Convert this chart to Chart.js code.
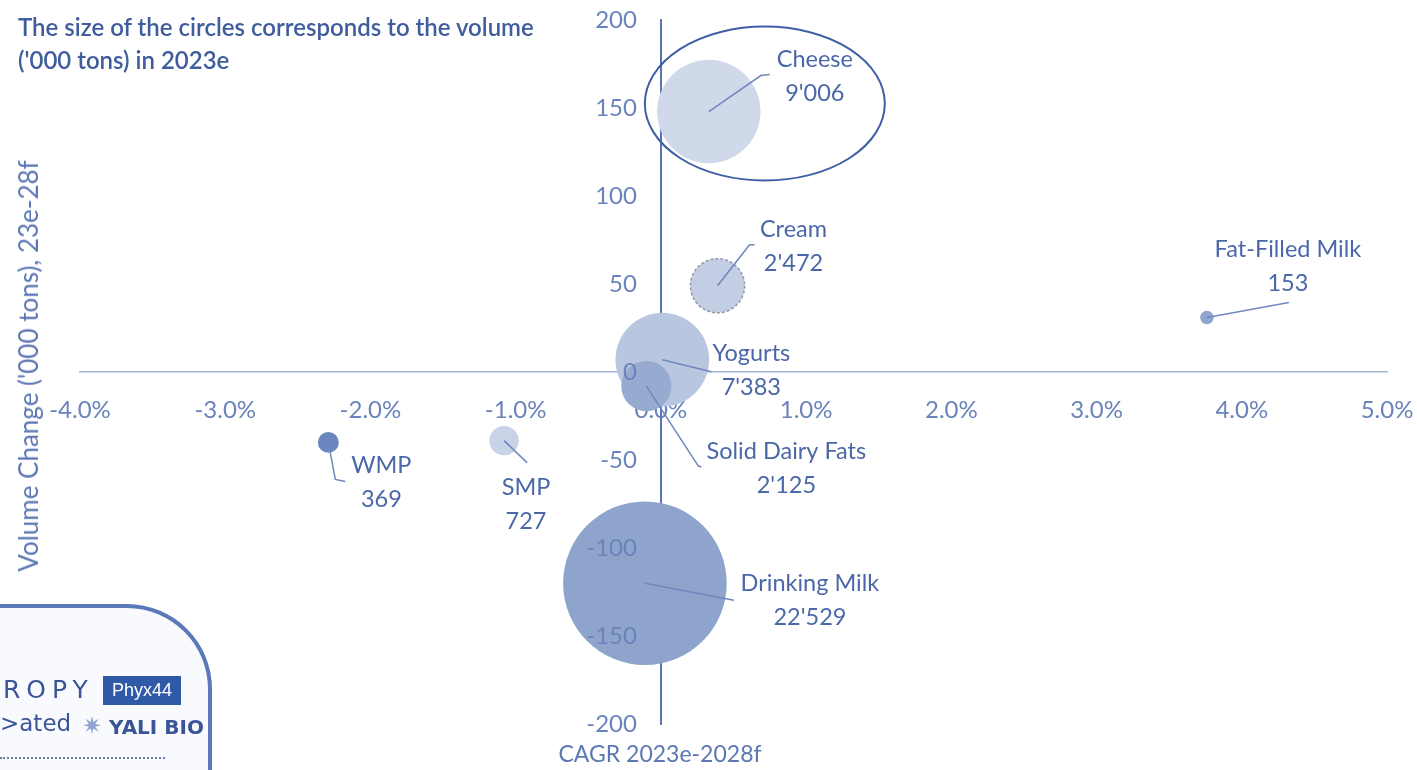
<!DOCTYPE html>
<html>
<head>
<meta charset="utf-8">
<script src="https://cdn.jsdelivr.net/npm/chart.js@4"></script>
<style>
  html, body { margin: 0; padding: 0; background: #fff; }
  body { width: 1417px; height: 770px; position: relative; overflow: hidden; font-family: Lato, "Open Sans", sans-serif; }
  #wrap { position: absolute; left: 0; top: 0; width: 1417px; height: 770px; }
  .note { position: absolute; left: 18px; top: 10px; color: #3f5c9c; font-size: 24px; line-height: 33px; font-weight: 600; }
  .xtitle { position: absolute; left: 540px; width: 240px; top: 739px; text-align: center; color: #5c77b3; font-size: 23px; }
  .ytitle { position: absolute; left: 28px; top: 366px; transform: translate(-50%, -50%) rotate(-90deg); white-space: nowrap; color: #5c77b3; font-size: 26px; }
  .logo { position: absolute; left: -20px; top: 604px; width: 228px; height: 200px; border-top: 4px solid #5b78b8; border-right: 4px solid #5b78b8; border-top-right-radius: 85px; background: #f9fafd; }
  .ropy { position: absolute; left: 3px; top: 675px; color: #3a5596; font-size: 25px; letter-spacing: 6px; font-family: "DejaVu Sans", sans-serif; }
  .phyx { position: absolute; left: 103px; top: 676px; width: 78px; height: 29px; background: #2f5aa8; color: #fff; font-size: 18px; line-height: 29px; text-align: center; font-family: "Liberation Sans", sans-serif; }
  .ated { position: absolute; left: 0px; top: 710px; color: #3a5596; font-size: 23px; font-family: "DejaVu Sans", sans-serif; }
  .yali { position: absolute; left: 82px; top: 712px; color: #3a5596; font-size: 20px; font-weight: bold; font-family: "DejaVu Sans", sans-serif; }
  .yali span { color: #8ea4d4; font-size: 24px; }
  .dots { position: absolute; left: 0; top: 757px; width: 165px; border-top: 2px dotted #6a7fb0; }
</style>
</head>
<body>
<div id="wrap"><canvas id="myChart" width="1417" height="770"></canvas></div>
<div class="note">The size of the circles corresponds to the volume<br>('000 tons) in 2023e</div>
<div class="ytitle">Volume Change ('000 tons), 23e-28f</div>
<div class="xtitle">CAGR 2023e-2028f</div>
<div class="logo"></div>
<div class="ropy">ROPY</div>
<div class="phyx">Phyx44</div>
<div class="ated">&gt;ated</div>
<div class="yali"><span>✷</span> YALI BIO</div>
<div class="dots"></div>

<script>
// data
const products = ["Cheese", "Cream", "Yogurts", "Solid Dairy Fats", "Drinking Milk", "Fat-Filled Milk", "WMP", "SMP"];
const cagr = [0.33, 0.39, 0.01, -0.10, -0.11, 3.76, -2.29, -1.08];          // % CAGR 2023e-2028f
const volumeChange = [148, 49, 7, -8, -120, 31, -40, -39];                   // '000 tons, 23e-28f
const volume2023 = [9006, 2472, 7383, 2125, 22529, 153, 369, 727];          // '000 tons in 2023e
const xTickMin = -4, xTickMax = 5, xTickStep = 1;
const yTickMin = -200, yTickMax = 200, yTickStep = 50;

// styling
const colors = ["#d0d9ea", "#c3cee4", "#b8c6e0", "#97abd1", "#8ea4cd", "#8fa4cf", "#6c86c0", "#c9d3e8"];
const textColor = "#4a67a8";
const tickColor = "#6a83bb";
const fontFamily = "Lato, 'Open Sans', sans-serif";
// label placement: text offset and leader points, relative to the bubble centre
const labelPlace = [
  { dx: 106, dy: -35, leader: [[52, -36], [61, -37]] },
  { dx: 76, dy: -39, leader: [[32, -41], [37, -41]] },
  { dx: 89, dy: 11, leader: [[49, 12]] },
  { dx: 140, dy: 82, leader: [[52, 80], [55, 81]] },
  { dx: 165, dy: 17, leader: [[89, 17]] },
  { dx: 81, dy: -51, leader: [[82, -15]] },
  { dx: 53, dy: 40, leader: [[7, 37], [17, 39]] },
  { dx: 22, dy: 64, leader: [[23, 22]] }
];

function fmtVolume(v) {
  return String(v).replace(/\B(?=(\d{3})+(?!\d))/g, "'");
}

const labelPlugin = {
  id: "labels",
  afterDraw(chart) {
    const ctx = chart.ctx;
    const meta = chart.getDatasetMeta(0);
    const xs = chart.scales.x, ys = chart.scales.y;
    ctx.save();

    // dashed outline of the Cream bubble
    const cr = meta.data[1];
    ctx.beginPath();
    ctx.arc(cr.x, cr.y, cr.options.radius, 0, Math.PI * 2);
    ctx.setLineDash([3, 2]);
    ctx.strokeStyle = "#8f98ab";
    ctx.lineWidth = 1.5;
    ctx.stroke();
    ctx.setLineDash([]);

    // y tick labels, left of the y axis that crosses at x = 0
    const x0 = xs.getPixelForValue(0);
    ctx.fillStyle = tickColor;
    ctx.font = "24px " + fontFamily;
    ctx.textAlign = "right";
    ctx.textBaseline = "middle";
    ys.ticks.forEach(t => {
      ctx.fillText(String(t.value), x0 - 24, ys.getPixelForValue(t.value));
    });

    meta.data.forEach((pt, i) => {
      const p = labelPlace[i];
      // leader line
      ctx.beginPath();
      ctx.moveTo(pt.x, pt.y);
      p.leader.forEach(([lx, ly]) => ctx.lineTo(pt.x + lx, pt.y + ly));
      ctx.strokeStyle = "#6f87bd";
      ctx.lineWidth = 1.5;
      ctx.stroke();
      // text
      ctx.fillStyle = textColor;
      ctx.font = "23.5px " + fontFamily;
      ctx.textAlign = "center";
      ctx.textBaseline = "middle";
      ctx.fillText(products[i], pt.x + p.dx, pt.y + p.dy - 17);
      ctx.fillText(fmtVolume(volume2023[i]), pt.x + p.dx, pt.y + p.dy + 17);
    });

    // highlight ellipse around Cheese
    const c = meta.data[0];
    ctx.beginPath();
    ctx.ellipse(c.x + 56, c.y - 8, 120, 77, 0, 0, Math.PI * 2);
    ctx.strokeStyle = "#3f5fa6";
    ctx.lineWidth = 2;
    ctx.stroke();
    ctx.restore();
  }
};

const ctx = document.getElementById("myChart").getContext("2d");
const chart = new Chart(ctx, {
  type: "bubble",
  data: {
    datasets: [{
      data: products.map((p, i) => ({ x: cagr[i], y: volumeChange[i], r: Math.sqrt(volume2023[i]) * 0.545 })),
      backgroundColor: colors,
      borderWidth: 0,
      clip: false
    }]
  },
  options: {
    responsive: false,
    animation: false,
    events: [],
    layout: { autoPadding: false, padding: { left: 80, right: 30, top: 20, bottom: 46 } },
    plugins: { legend: { display: false }, tooltip: { enabled: false } },
    scales: {
      x: {
        type: "linear",
        min: xTickMin,
        max: xTickMax,
        position: { y: 0 },
        z: 1,
        afterFit: (s) => { s.height = 0; s.paddingLeft = 0; s.paddingRight = 0; },
        grid: { display: false, drawTicks: false },
        border: { color: "#a8b7d8", width: 1.5 },
        ticks: {
          stepSize: xTickStep,
          padding: 24,
          color: tickColor,
          font: { size: 24, family: fontFamily },
          callback: (v) => v.toFixed(1) + "%"
        }
      },
      y: {
        type: "linear",
        min: yTickMin,
        max: yTickMax,
        position: { x: 0 },
        z: 1,
        afterFit: (s) => { s.width = 0; s.paddingTop = 0; s.paddingBottom = 0; },
        grid: { display: false, drawTicks: false },
        border: { color: "#5a75b3", width: 2 },
        ticks: { stepSize: yTickStep, display: false }
      }
    }
  },
  plugins: [labelPlugin]
});
</script>
</body>
</html>
